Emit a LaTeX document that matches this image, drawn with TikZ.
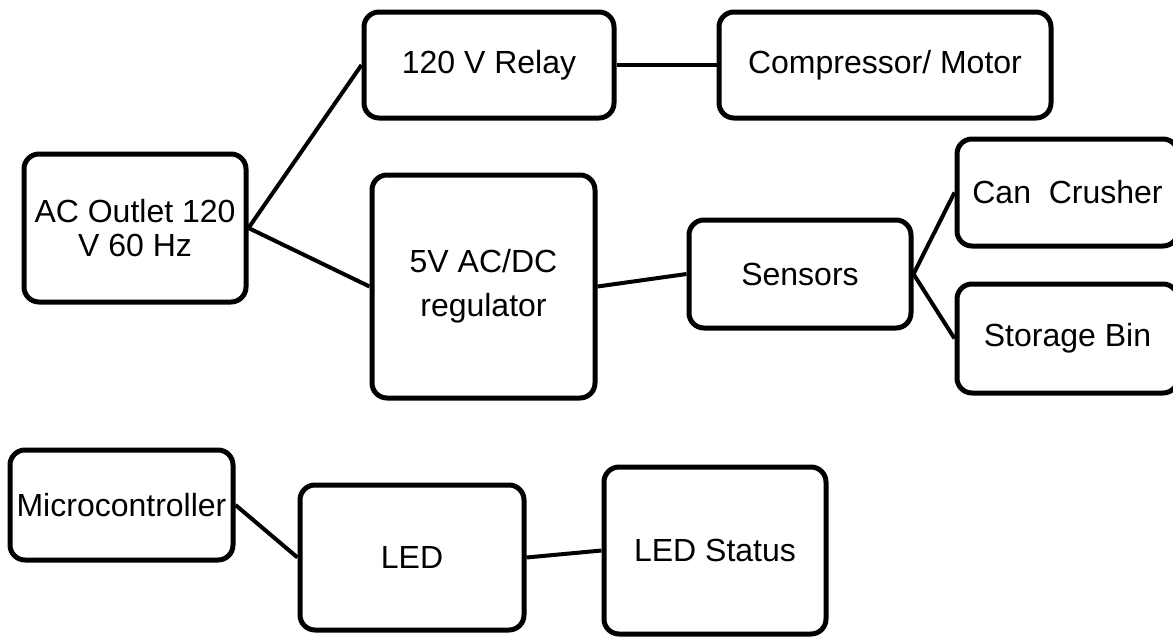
\documentclass[tikz,border=0pt]{standalone}
\usepackage{fontspec}
\setmainfont{Liberation Sans}
\usetikzlibrary{calc}
\begin{document}
\begin{tikzpicture}[x=1pt,y=-1pt,
  blk/.style={draw=black, line width=5pt, rounded corners=15pt, fill=white,
    align=center, inner sep=0pt, font=\fontsize{32}{34}\selectfont},
  wire/.style={line width=4pt}]
\useasboundingbox (0,0) rectangle (1173,643);
\node[blk, minimum width=222pt, minimum height=148pt] (ac) at (135,228) {AC Outlet 120\\V 60 Hz};
\node[blk, minimum width=250pt, minimum height=106pt] (relay) at (489,65) {120 V Relay};
\node[blk, minimum width=332pt, minimum height=106pt] (comp) at (885,65) {Compressor/ Motor};
\node[blk, minimum width=223pt, minimum height=223pt, font=\fontsize{32}{44}\selectfont] (reg) at (483.5,286.5) {5V AC/DC\\regulator};
\node[blk, minimum width=222pt, minimum height=108pt] (sens) at (800,274) {Sensors};
\node[blk, minimum width=221pt, minimum height=107pt] (can) at (1067.5,192.5) {Can\ \ Crusher};
\node[blk, minimum width=221pt, minimum height=109pt] (bin) at (1067.5,338.5) {Storage Bin};
\node[blk, minimum width=223pt, minimum height=110pt] (micro) at (121.5,505) {Microcontroller};
\node[blk, minimum width=224pt, minimum height=145pt] (led) at (412,557.5) {LED};
\node[blk, minimum width=222pt, minimum height=167pt] (status) at (715,550.5) {LED Status};
\draw[wire] (ac.east) -- (relay.west);
\draw[wire] (ac.east) -- (reg.west);
\draw[wire] (relay.east) -- (comp.west);
\draw[wire] (reg.east) -- (sens.west);
\draw[wire] (sens.east) -- (can.west);
\draw[wire] (sens.east) -- (bin.west);
\draw[wire] (micro.east) -- (led.west);
\draw[wire] (led.east) -- (status.west);
\end{tikzpicture}
\end{document}
